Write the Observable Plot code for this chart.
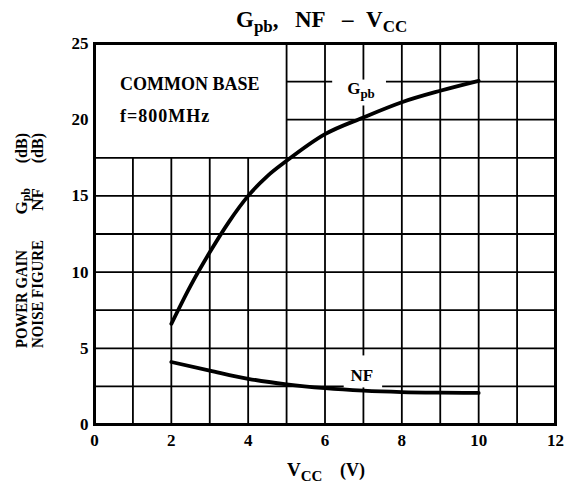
<!DOCTYPE html>
<html><head><meta charset="utf-8">
<script src="https://cdn.jsdelivr.net/npm/d3@7"></script>
<script src="https://cdn.jsdelivr.net/npm/@observablehq/plot@0.6"></script>
<style>body{margin:0;background:#fff}</style>
</head><body><div id="chart"></div>
<script>
// Data
const vccG = [2, 2.5, 3, 3.5, 4, 4.5, 5, 6, 7, 8, 9, 10];
const gpb  = [6.6, 9.1, 11.3, 13.3, 15.0, 16.3, 17.3, 19.05, 20.15, 21.15, 21.9, 22.55];
const vccN = [2, 3, 4, 5, 6, 7, 8, 9, 10];
const nf   = [4.1, 3.54, 3.0, 2.63, 2.38, 2.22, 2.13, 2.09, 2.07];
const xTicks = [0, 2, 4, 6, 8, 10, 12];
const yTicks = [0, 5, 10, 15, 20, 25];
const xGrid = [1, 2, 3, 4, 5, 6, 7, 8, 9, 10, 11];
const yGrid = [2.5, 5, 7.5, 10, 12.5, 15, 17.5, 20, 22.5];

const FONT = "Liberation Serif";

// grid segments (annotation box in upper-left, gaps around curve labels)
function split(a, b, gaps) {
  const out = []; let s = a;
  for (const [g0, g1] of gaps) { if (g0 > s) out.push([s, g0]); s = g1; }
  if (b > s) out.push([s, b]);
  return out;
}
const vSegs = [];
for (const x of xGrid) {
  const top = x < 5 ? 17.5 : 25;
  const gaps = x === 7 ? [[2.4, 4.5], [20.9, 22.6]] : [];
  for (const [y1, y2] of split(0, top, gaps)) vSegs.push({x, y1, y2});
}
const hSegs = [];
for (const y of yGrid) {
  const left = y > 17.5 ? 5 : 0;
  const gaps = y === 22.5 ? [[6.2, 7.6]] : y === 2.5 ? [[6.5, 7.5]] : [];
  for (const [x1, x2] of split(left, 12, gaps)) hSegs.push({y, x1, x2});
}
const gData = vccG.map((v, i) => ({v, g: gpb[i]}));
const nData = vccN.map((v, i) => ({v, n: nf[i]}));

const plot = Plot.plot({
  width: 566, height: 490,
  marginLeft: 94, marginRight: 11, marginTop: 43, marginBottom: 66,
  style: {fontFamily: FONT, fontWeight: "bold", fontSize: "16px", background: "#fff", color: "#000", overflow: "visible"},
  x: {domain: [0, 12]},
  y: {domain: [0, 25]},
  marks: [
    Plot.ruleX(vSegs, {x: "x", y1: "y1", y2: "y2", stroke: "#000", strokeWidth: 1.8}),
    Plot.ruleY(hSegs, {y: "y", x1: "x1", x2: "x2", stroke: "#000", strokeWidth: 1.8}),
    Plot.frame({stroke: "#000", strokeWidth: 3}),
    Plot.line(gData, {x: "v", y: "g", curve: "monotone-x", stroke: "#000", strokeWidth: 3.8}),
    Plot.line(nData, {x: "v", y: "n", curve: "monotone-x", stroke: "#000", strokeWidth: 3.8}),
    Plot.axisX({ticks: xTicks, tickSize: 0, tickPadding: 9, label: null, fontSize: 17}),
    Plot.axisY({ticks: yTicks, tickSize: 0, tickPadding: 6, label: null, fontSize: 17})
  ]
});

const svg = d3.select(plot);
const X = plot.scale("x"), Y = plot.scale("y");
function txt(parent, x, y, size, anchor) {
  return parent.append("text").attr("x", x).attr("y", y).attr("text-anchor", anchor || "start")
    .attr("font-family", FONT).attr("font-weight", "bold").attr("font-size", size).attr("fill", "#000");
}
function withSub(t, main, s, subSize, dy) {
  t.append("tspan").text(main);
  t.append("tspan").attr("dy", dy).attr("font-size", subSize).text(s);
  return t;
}
// Title
withSub(txt(svg, 236, 27, 23), "G", "pb", 17, 5).append("tspan").attr("dy", -5).text(",");
txt(svg, 295, 27, 23).text("NF");
txt(svg, 342, 27, 23).text("\u2013");
withSub(txt(svg, 366, 27, 23), "V", "CC", 17, 5);

// Box annotation
txt(svg, 120, 90, 18).text("COMMON BASE");
txt(svg, 120, 122, 18).attr("letter-spacing", 1).text("f=800MHz");

// Curve labels
withSub(txt(svg, X.apply(6.95), Y.apply(21.65), 17, "middle"), "G", "pb", 13, 4);
txt(svg, X.apply(6.97), Y.apply(2.8), 17, "middle").text("NF");

// X axis label
withSub(txt(svg, 287, 476, 19), "V", "CC", 15, 5);
txt(svg, 340, 476, 18).text("(V)");

// Y axis label (two rotated lines)
const yg = svg.append("g").attr("transform", "rotate(-90)");
function col(v, a, aLen, b, bsub) {
  txt(yg, -348, v, 17).attr("textLength", aLen).attr("lengthAdjust", "spacingAndGlyphs").text(a);
  const t = txt(yg, -188, v, 17, "end");
  t.append("tspan").text(b);
  if (bsub) t.append("tspan").attr("dy", 3).attr("font-size", 12).text(bsub);
  txt(yg, -133, v, 16, "end").text("(dB)");
}
col(27, "POWER GAIN", 98, "G", "pb");
col(43, "NOISE FIGURE", 108, "NF", null);

document.getElementById("chart").appendChild(plot);
</script></body></html>
